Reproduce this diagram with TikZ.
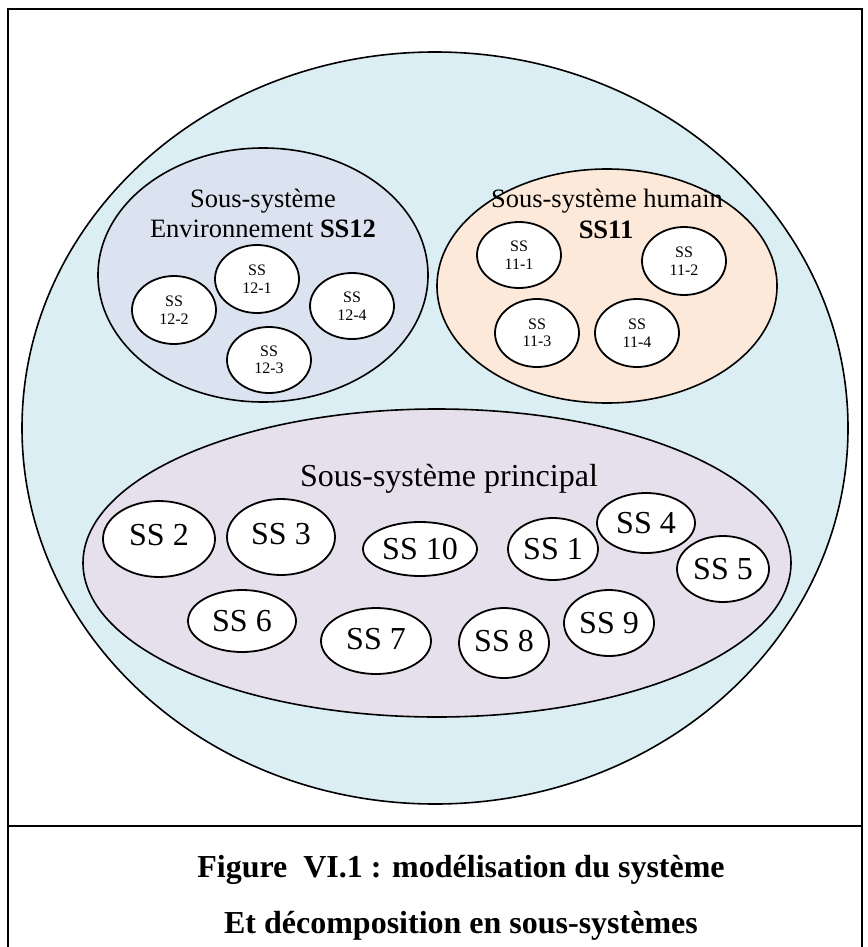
\documentclass[tikz,border=0pt]{standalone}
\usepackage{fontspec}
\setmainfont{Liberation Serif}
\usetikzlibrary{shapes.geometric}

\definecolor{sysfill}{HTML}{DAEEF3}
\definecolor{envfill}{HTML}{DBE3F0}
\definecolor{humfill}{HTML}{FDE9D9}
\definecolor{prinfill}{HTML}{E5E0EC}

\tikzset{
  container/.style={ellipse, draw=black, line width=1.6pt, inner sep=0pt},
  smallss/.style={ellipse, draw=black, fill=white, line width=1.8pt, inner sep=0pt,
    align=center, font=\fontsize{16}{17.5}\selectfont},
  bigss/.style={ellipse, draw=black, fill=white, line width=1.8pt, inner sep=0pt,
    font=\fontsize{32}{34}\selectfont},
  title/.style={inner sep=0pt, anchor=base},
  frameline/.style={line width=1.8pt, draw=black}
}

\begin{document}
\begin{tikzpicture}[x=1pt, y=-1pt]
\useasboundingbox (0,0) rectangle (867,947);

% frame and caption separator
\coordinate (fbl) at (8,947);
\coordinate (ftl) at (8,9);
\coordinate (ftr) at (862,9);
\coordinate (fbr) at (862,947);
\coordinate (sepl) at (8,826);
\coordinate (sepr) at (862,826);
\draw[frameline] (fbl) -- (ftl) -- (ftr) -- (fbr);
\draw[frameline] (sepl) -- (sepr);

% whole system
\node[container, fill=sysfill, minimum width=826pt, minimum height=752pt] (sys) at (435,428) {};

% environment sub-system SS12
\node[container, fill=envfill, minimum width=330pt, minimum height=254pt] (env) at (263,275) {};
\node[title, font=\fontsize{26.5}{30}\selectfont] (envt1) at (263,207) {Sous-système};
\node[title, font=\fontsize{26.5}{30}\selectfont] (envt2) at (263,237) {Environnement \textbf{SS12}};
\node[smallss, minimum width=84pt, minimum height=68pt] (e1) at (257,279) {SS\\12-1};
\node[smallss, minimum width=84pt, minimum height=68pt] (e2) at (174,310) {SS\\12-2};
\node[smallss, minimum width=84pt, minimum height=66pt] (e3) at (269,360) {SS\\12-3};
\node[smallss, minimum width=84pt, minimum height=66pt] (e4) at (352,306) {SS\\12-4};

% human sub-system SS11
\node[container, fill=humfill, minimum width=340pt, minimum height=234pt] (hum) at (607,286) {};
\node[title, font=\fontsize{26.5}{30}\selectfont] (humt1) at (607,207) {Sous-système humain};
\node[title, font=\fontsize{26.5}{30}\selectfont] (humt2) at (606,238) {\textbf{SS11}};
\node[smallss, minimum width=84pt, minimum height=66pt] (h1) at (519,255) {SS\\11-1};
\node[smallss, minimum width=84pt, minimum height=68pt] (h2) at (684,261) {SS\\11-2};
\node[smallss, minimum width=84pt, minimum height=68pt] (h3) at (537,333) {SS\\11-3};
\node[smallss, minimum width=84pt, minimum height=68pt] (h4) at (637,333) {SS\\11-4};

% main sub-system
\node[container, fill=prinfill, minimum width=708pt, minimum height=308pt] (prin) at (437,563) {};
\node[title, font=\fontsize{32}{34}\selectfont] (print) at (449,486) {Sous-système principal};
\node[bigss, minimum width=112pt, minimum height=76pt] (s2) at (159,539) {\raisebox{8pt}{SS 2}};
\node[bigss, minimum width=108pt, minimum height=76pt] (s3) at (281,537) {\raisebox{7pt}{SS 3}};
\node[bigss, minimum width=114pt, minimum height=54pt] (s10) at (420,549) {SS 10};
\node[bigss, minimum width=90pt, minimum height=62pt] (s1) at (553,549) {SS 1};
\node[bigss, minimum width=98pt, minimum height=60pt] (s4) at (646,523) {SS 4};
\node[bigss, minimum width=92pt, minimum height=66pt] (s5) at (723,569) {SS 5};
\node[bigss, minimum width=108pt, minimum height=62pt] (s6) at (242,621) {SS 6};
\node[bigss, minimum width=110pt, minimum height=66pt] (s7) at (376,641) {\raisebox{4pt}{SS 7}};
\node[bigss, minimum width=90pt, minimum height=70pt] (s8) at (504,643) {\raisebox{4pt}{SS 8}};
\node[bigss, minimum width=90pt, minimum height=66pt] (s9) at (609,623) {SS 9};

% caption
\node[title, font=\fontsize{32}{34}\selectfont\bfseries] (cap1) at (461,877)
  {Figure\ \ VI.1 : modélisation du système};
\node[title, font=\fontsize{32}{34}\selectfont\bfseries] (cap2) at (461,933)
  {Et décomposition en sous-systèmes};
\end{tikzpicture}
\end{document}
